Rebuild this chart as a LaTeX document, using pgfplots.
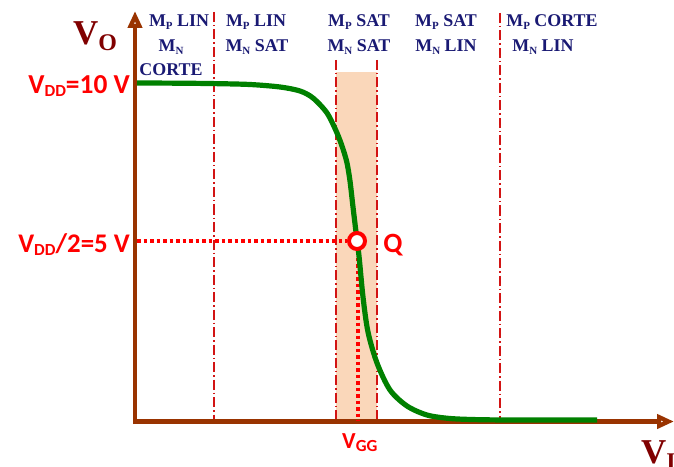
\documentclass[border=0pt]{standalone}
\usepackage{pgfplots}
\pgfplotsset{compat=1.18}
\usepackage{fontspec}
\setmainfont{Liberation Serif}
\newfontfamily\calib{Carlito}
\usetikzlibrary{arrows.meta}

\definecolor{axbrown}{RGB}{153,51,0}
\definecolor{vdark}{RGB}{128,0,0}
\definecolor{navy}{RGB}{25,25,115}
\definecolor{peach}{RGB}{250,215,186}
\definecolor{curvegreen}{RGB}{0,128,0}
\definecolor{regred}{RGB}{210,20,20}

% region labels (transistor operating modes)
\newcommand\lbl{\fontsize{18}{20}\selectfont\bfseries}
\newcommand\sub[1]{\raisebox{-0.3ex}{\fontsize{11}{11}\selectfont #1}}
% red annotation subscripts
\newcommand\rsub[2]{\raisebox{-#2}{\fontsize{17}{17}\selectfont #1}}

\begin{document}
\begin{tikzpicture}
\begin{axis}[name=ax,
  width=674bp, height=467bp, scale only axis,
  xmin=0, xmax=674, ymin=0, ymax=467, y dir=reverse,
  hide axis, clip=false]

% saturation band around the switching point
\addplot[draw=none, fill=peach] coordinates {(336,72) (377,72) (377,421) (336,421)};

% region boundaries
\pgfplotsset{regline/.style={regred, line width=1.4bp,
  dash pattern=on 10bp off 3bp on 1.5bp off 3bp}}
\addplot[regline] coordinates {(214,12) (214,421)};
\addplot[regline] coordinates {(336,60) (336,421)};
\addplot[regline] coordinates {(377,60) (377,421)};
\addplot[regline] coordinates {(500,13) (500,421)};

% axes
\addplot[axbrown, line width=4.2bp, -{Triangle[open, length=17bp, width=14bp]}]
  coordinates {(135,424) (135,11)};
\addplot[axbrown, line width=4.2bp, -{Triangle[open, length=17bp, width=14bp]}]
  coordinates {(133,421.5) (674,421.5)};

% Q-point guides
\addplot[red, line width=3.2bp, dash pattern=on 3.5bp off 3bp]
  coordinates {(137,241) (347,241)};
\addplot[red, line width=3.2bp, dash pattern=on 3.5bp off 3bp]
  coordinates {(358,251) (358,421)};

% transfer characteristic
\addplot[curvegreen, line width=5.2bp, smooth, tension=0.5] coordinates {
 (137,83) (180,83.2) (214,83.6) (250,84.5) (280,87) (300,91) (313,98)
 (327,113) (337,133) (343,149) (347,163) (350,181) (353,207) (356,232)
 (359,256) (363,297) (368,332) (377,363) (390,390) (407,406) (427,415)
 (450,418.5) (480,419.7) (520,420) (597,420)};

% operating point Q
\addplot[only marks, mark=*, mark size=8bp,
  mark options={fill=white, draw=red, line width=4bp}]
  coordinates {(357,241)};

% operating-mode labels
\node[anchor=base, text=navy, font=\lbl] at (axis cs:179,27) {M\sub{P} LIN};
\node[anchor=base, text=navy, font=\lbl] at (axis cs:171,52) {M\sub{N}};
\node[anchor=base, text=navy, font=\lbl] at (axis cs:171,76) {CORTE};
\node[anchor=base, text=navy, font=\lbl] at (axis cs:256,27) {M\sub{P} LIN};
\node[anchor=base, text=navy, font=\lbl] at (axis cs:257,52) {M\sub{N} SAT};
\node[anchor=base, text=navy, font=\lbl] at (axis cs:359,27) {M\sub{P} SAT};
\node[anchor=base, text=navy, font=\lbl] at (axis cs:359,52) {M\sub{N} SAT};
\node[anchor=base, text=navy, font=\lbl] at (axis cs:446,27) {M\sub{P} SAT};
\node[anchor=base, text=navy, font=\lbl] at (axis cs:446,52) {M\sub{N} LIN};
\node[anchor=base, text=navy, font=\lbl] at (axis cs:552,27) {M\sub{P} CORTE};
\node[anchor=base, text=navy, font=\lbl] at (axis cs:543,52) {M\sub{N} LIN};

% axis names
\node[anchor=base west, inner sep=0pt, text=vdark,
  font=\fontsize{35}{35}\selectfont\bfseries] at (axis cs:73,45)
  {V\raisebox{-6bp}{\fontsize{24}{24}\selectfont O}};
\node[anchor=base west, inner sep=0pt, text=vdark,
  font=\fontsize{35}{35}\selectfont\bfseries] at (axis cs:641,463)
  {V\raisebox{-6bp}{\fontsize{24}{24}\selectfont I}};

% red annotations
\node[anchor=base east, inner sep=0pt, text=red,
  font=\calib\fontsize{27.5}{27}\selectfont\bfseries] at (axis cs:130,93)
  {V\rsub{DD}{3.5bp}=10 V};
\node[anchor=base east, inner sep=0pt, text=red,
  font=\calib\fontsize{27}{27}\selectfont\bfseries] at (axis cs:130,252)
  {V\rsub{DD}{3.5bp}/2=5 V};
\node[anchor=base, inner sep=0pt, text=red,
  font=\calib\fontsize{28}{28}\selectfont\bfseries] at (axis cs:393,252.5)
  {Q};
\node[anchor=base west, inner sep=0pt, text=red,
  font=\calib\fontsize{23}{23}\selectfont\bfseries] at (axis cs:342,448)
  {V\rsub{GG}{3bp}};
\end{axis}
\pgfresetboundingbox
\useasboundingbox (ax.south west) rectangle (ax.north east);
\end{tikzpicture}
\end{document}
